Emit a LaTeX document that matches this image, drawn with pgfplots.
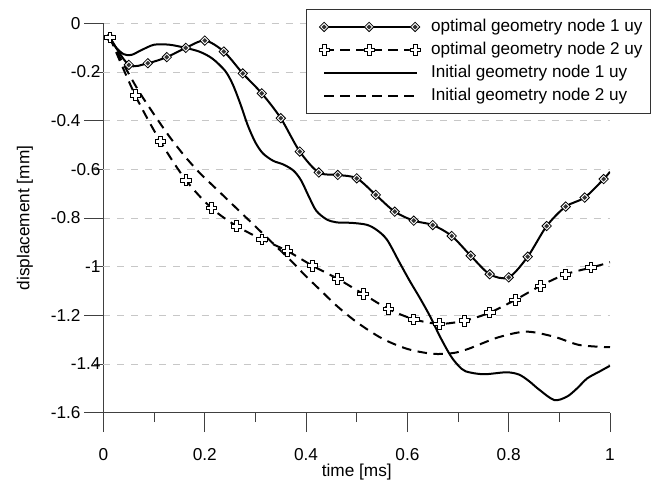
\documentclass[border=0pt]{standalone}
\usepackage{fontspec}
\setmainfont{Liberation Sans}
\usepackage{pgfplots}
\usepackage{pgfplotstable}
\pgfplotsset{compat=1.18}

\pgfdeclareplotmark{dmd}{%
  \pgfpathmoveto{\pgfqpoint{0pt}{\pgfplotmarksize}}%
  \pgfpathlineto{\pgfqpoint{\pgfplotmarksize}{0pt}}%
  \pgfpathlineto{\pgfqpoint{0pt}{-\pgfplotmarksize}}%
  \pgfpathlineto{\pgfqpoint{-\pgfplotmarksize}{0pt}}%
  \pgfpathclose
  \pgfusepathqfillstroke
  \begin{pgfscope}%
  \pgfpathmoveto{\pgfqpoint{0pt}{0.52\pgfplotmarksize}}%
  \pgfpathlineto{\pgfqpoint{0.52\pgfplotmarksize}{0pt}}%
  \pgfpathlineto{\pgfqpoint{0pt}{-0.52\pgfplotmarksize}}%
  \pgfpathlineto{\pgfqpoint{-0.52\pgfplotmarksize}{0pt}}%
  \pgfpathclose
  \pgfsetfillcolor{black!80}%
  \pgfusepathqfill
  \end{pgfscope}%
}
\pgfdeclareplotmark{pluso}{%
  \pgfpathmoveto{\pgfqpoint{0.36\pgfplotmarksize}{\pgfplotmarksize}}%
  \pgfpathlineto{\pgfqpoint{0.36\pgfplotmarksize}{0.36\pgfplotmarksize}}%
  \pgfpathlineto{\pgfqpoint{\pgfplotmarksize}{0.36\pgfplotmarksize}}%
  \pgfpathlineto{\pgfqpoint{\pgfplotmarksize}{-0.36\pgfplotmarksize}}%
  \pgfpathlineto{\pgfqpoint{0.36\pgfplotmarksize}{-0.36\pgfplotmarksize}}%
  \pgfpathlineto{\pgfqpoint{0.36\pgfplotmarksize}{-\pgfplotmarksize}}%
  \pgfpathlineto{\pgfqpoint{-0.36\pgfplotmarksize}{-\pgfplotmarksize}}%
  \pgfpathlineto{\pgfqpoint{-0.36\pgfplotmarksize}{-0.36\pgfplotmarksize}}%
  \pgfpathlineto{\pgfqpoint{-\pgfplotmarksize}{-0.36\pgfplotmarksize}}%
  \pgfpathlineto{\pgfqpoint{-\pgfplotmarksize}{0.36\pgfplotmarksize}}%
  \pgfpathlineto{\pgfqpoint{-0.36\pgfplotmarksize}{0.36\pgfplotmarksize}}%
  \pgfpathlineto{\pgfqpoint{-0.36\pgfplotmarksize}{\pgfplotmarksize}}%
  \pgfpathclose
  \pgfusepathqfillstroke
}

\pgfplotsset{
  my legend/.style={legend image code/.code={%
    \pgfpathrectangle{\pgfpoint{-10bp}{-6bp}}{\pgfpoint{110bp}{12bp}}%
    \pgfusepath{use as bounding box}%
    \draw[##1,mark=none] (0bp,0bp) -- (93bp,0bp);
    \draw[##1] plot[only marks] coordinates {(0bp,0bp) (45bp,0bp) (91bp,0bp)};
  }},
  dmdstyle/.style={mark=dmd, mark size=4.7bp, mark options={solid, fill=white, draw=black, line width=0.8bp}},
  plusstyle/.style={mark=pluso, mark size=5.2bp, mark options={solid, fill=white, draw=black, line width=0.8bp}},
  dashstyle/.style={dash pattern=on 9.5bp off 6.5bp},
}

\pgfplotstableread{
x y
0.0125 -0.058
0.05 -0.171
0.0875 -0.164
0.125 -0.139
0.1625 -0.101
0.2 -0.071
0.2375 -0.116
0.275 -0.206
0.3125 -0.288
0.35 -0.39
0.3875 -0.527
0.425 -0.613
0.4625 -0.623
0.5 -0.637
0.5375 -0.705
0.575 -0.774
0.6125 -0.811
0.65 -0.829
0.6875 -0.874
0.725 -0.955
0.7625 -1.031
0.8 -1.044
0.8375 -0.959
0.875 -0.833
0.9125 -0.753
0.95 -0.716
0.9875 -0.640
1.0 -0.61
}\optA

\pgfplotstableread{
x y
0.0125 -0.058
0.0625 -0.295
0.1125 -0.486
0.1625 -0.644
0.2125 -0.758
0.2625 -0.833
0.3125 -0.887
0.3625 -0.935
0.4125 -0.996
0.4625 -1.05
0.5125 -1.112
0.5625 -1.174
0.6125 -1.216
0.6625 -1.235
0.7125 -1.222
0.7625 -1.189
0.8125 -1.137
0.8625 -1.079
0.9125 -1.031
0.9625 -1.004
1.0 -0.982
}\optB

\pgfplotstableread{
x y
0.0125 -0.058
0.025 -0.10
0.04 -0.127
0.055 -0.13
0.075 -0.11
0.10 -0.088
0.13 -0.088
0.16 -0.10
0.19 -0.117
0.215 -0.145
0.24 -0.195
0.255 -0.25
0.27 -0.33
0.285 -0.42
0.30 -0.49
0.315 -0.535
0.335 -0.565
0.355 -0.58
0.375 -0.605
0.39 -0.645
0.405 -0.71
0.42 -0.77
0.44 -0.805
0.46 -0.818
0.49 -0.82
0.52 -0.828
0.54 -0.85
0.56 -0.89
0.585 -0.985
0.605 -1.06
0.625 -1.13
0.645 -1.205
0.665 -1.29
0.685 -1.365
0.70 -1.405
0.715 -1.43
0.75 -1.442
0.795 -1.434
0.82 -1.443
0.84 -1.47
0.86 -1.505
0.89 -1.548
0.915 -1.534
0.935 -1.50
0.955 -1.459
0.98 -1.43
1.0 -1.407
}\iniA

\pgfplotstableread{
x y
0.0125 -0.058
0.04 -0.17
0.07 -0.28
0.10 -0.375
0.13 -0.465
0.16 -0.545
0.19 -0.615
0.22 -0.675
0.25 -0.735
0.28 -0.795
0.31 -0.855
0.34 -0.915
0.37 -0.975
0.40 -1.04
0.43 -1.10
0.46 -1.16
0.50 -1.228
0.55 -1.295
0.60 -1.338
0.65 -1.358
0.69 -1.355
0.72 -1.338
0.78 -1.29
0.835 -1.267
0.89 -1.288
0.94 -1.322
1.0 -1.331
}\iniB

\begin{document}
\begin{tikzpicture}
\begin{axis}[name=ax,
  scale only axis, width=506.5bp, height=389.4bp,
  xmin=0, xmax=1, ymin=-1.6, ymax=0,
  axis x line*=bottom, axis y line*=left,
  axis line style={-, black!75, line width=0.9bp},
  tick style={black!75, line width=0.9bp},
  tick align=outside,
  major tick length=19.5bp, minor tick length=9.5bp,
  xtick={0,0.2,0.4,0.6,0.8,1}, xticklabels={0,0.2,0.4,0.6,0.8,1},
  minor xtick={0.1,0.3,0.5,0.7,0.9},
  ytick={-1.6,-1.2,-0.8,-0.4,0}, yticklabels={-1.6,-1.2,-0.8,-0.4,0},
  extra y ticks={-1.4,-1,-0.6,-0.2}, extra y tick labels={-1.4,-1,-0.6,-0.2},
  extra y tick style={major tick length=9.5bp, grid=major, yticklabel style={xshift=10bp}},
  ymajorgrids,
  major grid style={black!22, dash pattern=on 7bp off 7bp, line width=0.9bp},
  ticklabel style={font=\fontsize{17.3}{21}\selectfont},
  xticklabel style={yshift=-13bp},
  label style={font=\fontsize{17.3}{21}\selectfont},
  xlabel={time [ms]}, ylabel={displacement [mm]},
  xlabel style={at={(axis description cs:0.5,-0.1626)}, anchor=base},
  ylabel style={at={(axis description cs:-0.155,0.5)}, anchor=center},
  my legend,
  legend cell align=left,
  legend style={at={(axis description cs:1.081,1.0367)}, anchor=north east,
    draw=black!80, line width=0.9bp, fill=white,
    font=\fontsize{17.2}{21}\selectfont,
    inner xsep=8bp, inner ysep=9bp, row sep=6bp, column sep=7bp,
    nodes={inner sep=0bp, text height=13bp, text depth=4bp}},
]
\addlegendimage{black, line width=2bp, dmdstyle}
\addlegendentry{optimal geometry node 1 uy}
\addlegendimage{black, line width=2bp, dashstyle, plusstyle}
\addlegendentry{optimal geometry node 2 uy}
\addlegendimage{black, line width=2bp}
\addlegendentry{Initial geometry node 1 uy}
\addlegendimage{black, line width=2bp, dashstyle}
\addlegendentry{Initial geometry node 2 uy}

\addplot[black, line width=2bp, smooth, forget plot] table {\iniA};
\addplot[black, line width=2bp, smooth, dashstyle, forget plot] table {\iniB};
\addplot[black, line width=2bp, smooth, forget plot] table {\optA};
\addplot[black, line width=2bp, smooth, dashstyle, forget plot] table {\optB};
\addplot[only marks, dmdstyle, forget plot, skip coords between index={27}{28}] table {\optA};
\addplot[only marks, plusstyle, forget plot, skip coords between index={20}{21}] table {\optB};
\end{axis}
\pgfresetboundingbox
\path[use as bounding box] ([xshift=-103.5bp,yshift=-69.3bp]ax.south west) rectangle ([xshift=42bp,yshift=23.3bp]ax.north east);
\end{tikzpicture}
\end{document}
